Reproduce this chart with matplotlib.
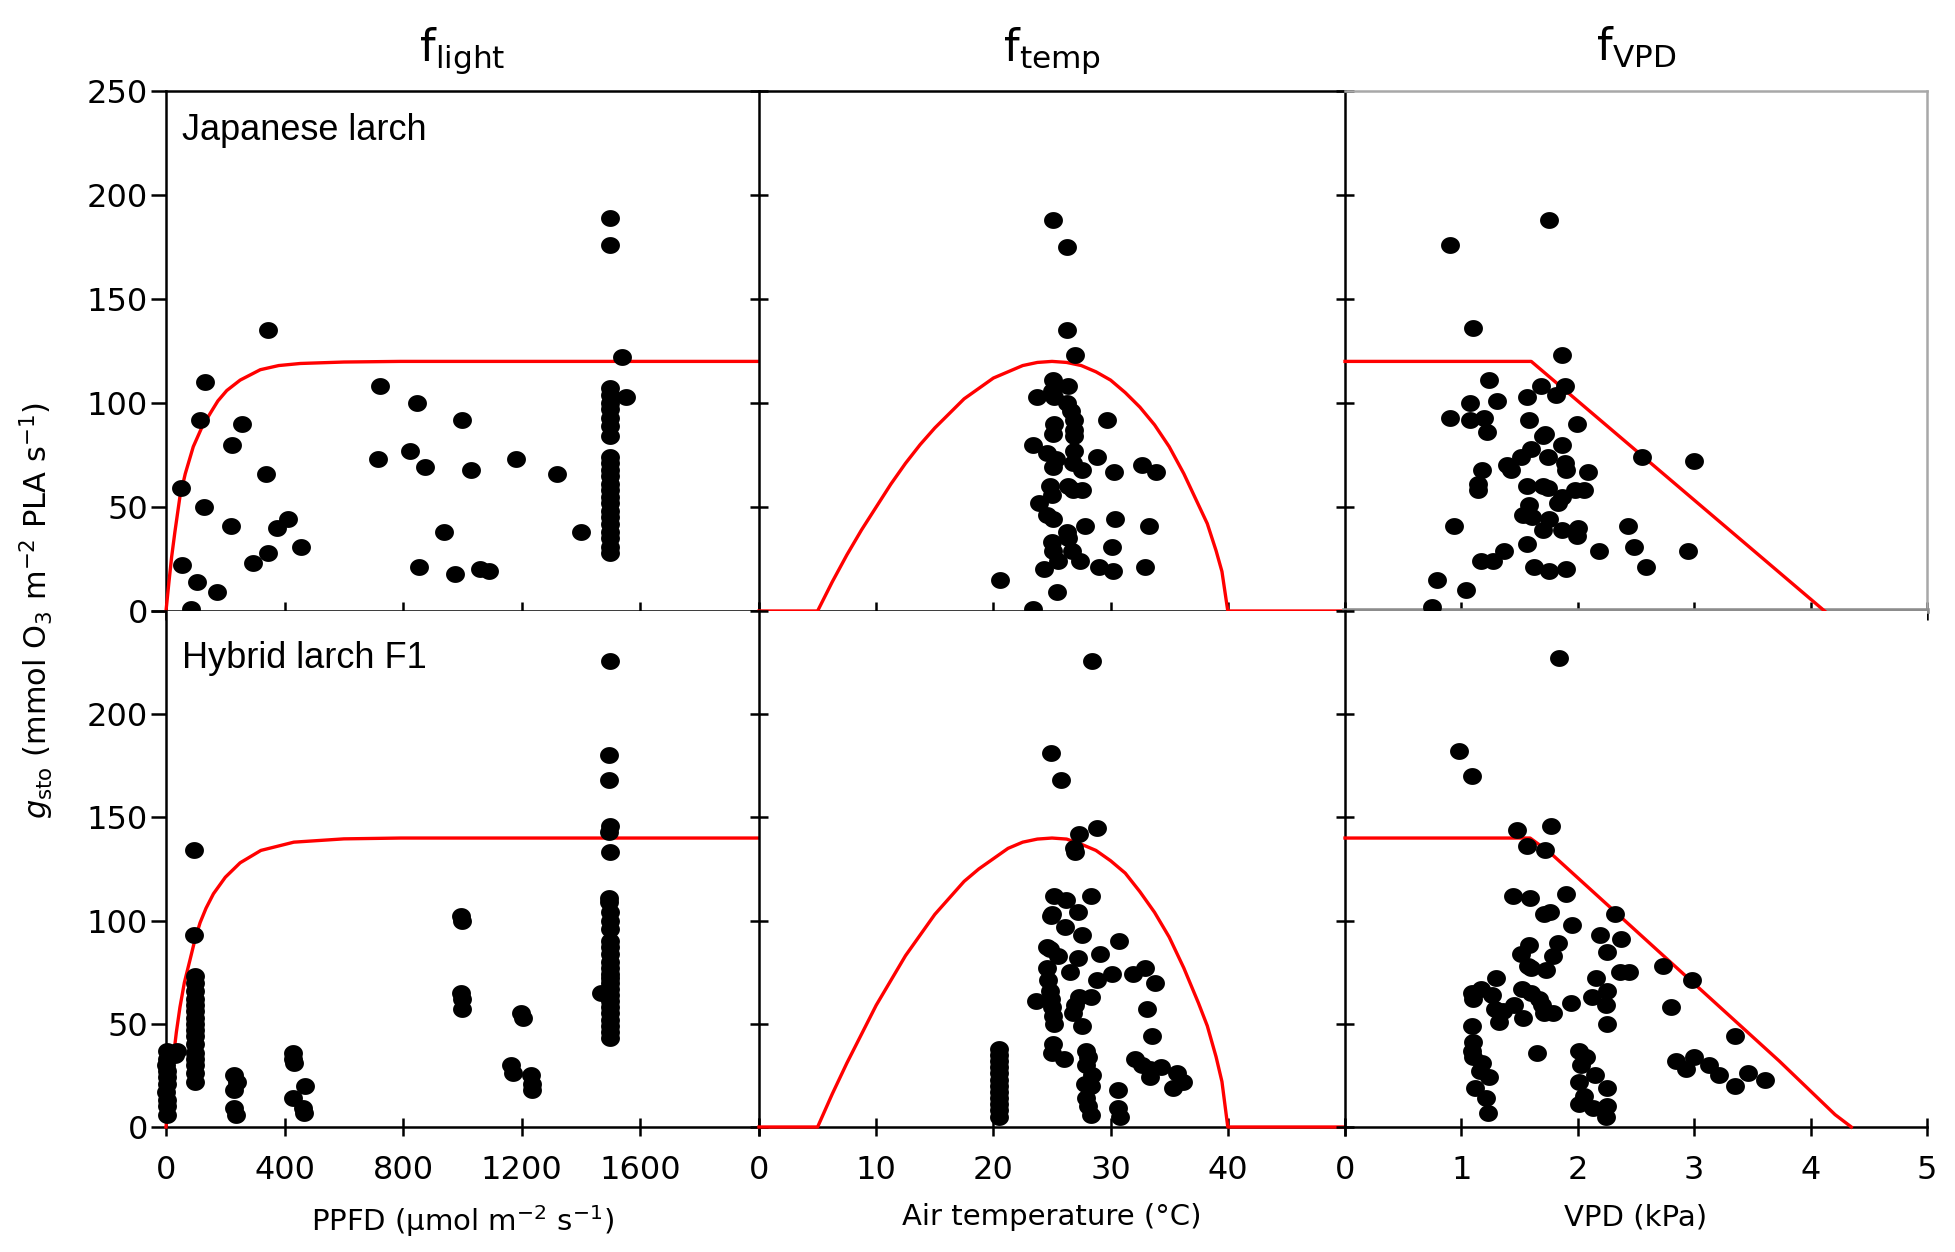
import numpy as np
import matplotlib
matplotlib.use("Agg")
import matplotlib.pyplot as plt
from matplotlib.path import Path

plt.rcParams['font.family'] = ['DejaVu Sans']
plt.rcParams['mathtext.fontset'] = 'dejavusans'

# ---------------------------------------------------------------- data
# Japanese larch, f_light panel
ppfd_jp = [50, 55, 84, 106, 114, 129, 133, 171, 218, 222, 255, 294, 343, 338, 345,
           375, 410, 455, 714, 721, 824, 845, 854, 874, 936, 975, 998, 1029, 1059,
           1091, 1180, 1318, 1398, 1496, 1496, 1538, 1550,
           1496, 1496, 1496, 1496, 1496, 1496, 1496, 1496, 1496, 1496, 1496,
           1496, 1496, 1496, 1496, 1496, 1496, 1496, 1496, 1496, 1496, 1496]
gsto_jp_light = [59, 22, 1, 14, 92, 50, 110, 9, 41, 80, 90, 23, 28, 66, 135,
                 40, 44, 31, 73, 108, 77, 100, 21, 69, 38, 18, 92, 68, 20,
                 19, 73, 66, 38, 189, 176, 122, 103,
                 107, 104, 100, 97, 93, 89, 84, 74, 71, 68, 65,
                 61, 58, 55, 52, 48, 45, 42, 38, 35, 31, 28]

# Japanese larch, f_temp panel
temp_jp = [25.1, 26.3, 26.3, 27.0, 25.1, 25.0, 25.2, 26.4, 23.7, 26.3, 26.6, 26.9,
           29.7, 26.9, 25.2, 25.1, 26.9, 23.4, 26.9, 24.6, 25.3, 28.8, 25.1, 27.6,
           26.8, 32.7, 33.9, 30.3, 24.8, 25.0, 26.4, 26.8, 27.6, 23.9, 24.6, 25.1,
           30.4, 33.3, 27.8, 26.3, 26.4, 25.0, 25.1, 26.7, 30.1, 25.5, 27.4, 29.0,
           24.3, 30.2, 32.9, 20.6, 25.4, 23.4]
gsto_jp_temp = [188, 175, 135, 123, 111, 106, 103, 108, 103, 100, 96, 92,
                92, 87, 90, 85, 84, 80, 77, 76, 73, 74, 69, 68,
                71, 70, 67, 67, 60, 56, 60, 58, 58, 52, 46, 44,
                44, 41, 41, 38, 35, 33, 29, 29, 31, 24, 24, 21,
                20, 19, 21, 15, 9, 1]

# Japanese larch, f_VPD panel
vpd_jp = [1.75, 0.90, 1.10, 1.86, 1.24, 1.68, 1.89, 1.81, 1.56, 1.07, 1.31, 0.90,
          1.07, 1.19, 1.58, 1.22, 1.99, 1.72, 1.70, 1.86, 1.60, 1.51, 1.74, 2.55,
          3.00, 1.39, 1.43, 1.89, 1.90, 1.18, 2.09, 1.14, 1.14, 1.56, 1.70, 1.74,
          1.98, 2.05, 1.86, 1.83, 1.58, 1.53, 1.61, 1.75, 0.94, 2.43, 1.70, 1.86,
          2.00, 1.99, 1.56, 1.37, 2.18, 2.48, 2.95, 1.17, 1.27, 2.59, 1.62, 1.75,
          1.90, 0.79, 1.04, 0.75]
gsto_jp_vpd = [188, 176, 136, 123, 111, 108, 108, 104, 103, 100, 101, 93,
               92, 93, 92, 86, 90, 85, 84, 80, 78, 74, 74, 74,
               72, 70, 68, 71, 68, 68, 67, 61, 58, 60, 60, 59,
               58, 58, 55, 52, 51, 46, 45, 44, 41, 41, 39, 39,
               40, 36, 32, 29, 29, 31, 29, 24, 24, 21, 21, 19,
               20, 15, 10, 2]

# Hybrid larch F1, f_light panel
ppfd_hy = [1499, 1494, 1494, 1499, 1494, 1499, 1494, 1494,
           1499, 1499, 1499, 1499, 1499, 1499, 1499, 1499, 1499, 1499,
           1499, 1499, 1499, 1499, 1499, 1499, 1499, 1499, 1499, 1499, 1466,
           995, 1000, 995, 1000, 1000, 1197, 1205, 1163, 1171, 1230, 1235, 1235,
           96, 96, 99, 99, 99, 99, 99, 99, 99, 99, 99, 99, 99, 99, 99, 99, 99, 99,
           29, 37, 2, 4, 1, 3, 2, 5, 1, 3, 2, 4,
           230, 239, 230, 230, 235, 427, 429, 432, 427, 469, 462, 466]
gsto_hy_light = [226, 180, 168, 146, 143, 133, 111, 109,
                 104, 100, 96, 90, 87, 84, 80, 77, 74, 72,
                 70, 67, 64, 61, 58, 55, 52, 49, 46, 43, 65,
                 102, 100, 65, 57, 62, 55, 53, 30, 26, 25, 21, 18,
                 134, 93, 73, 70, 66, 62, 59, 56, 53, 50, 47, 44, 40, 36, 33, 30, 26, 22,
                 35, 37, 37, 33, 30, 27, 24, 21, 17, 13, 10, 6,
                 25, 22, 18, 9, 6, 36, 33, 31, 14, 20, 9, 7]

# Hybrid larch F1, f_temp panel
temp_hy = [28.4, 24.9, 25.8, 28.8, 27.3, 26.9, 27.0, 25.2, 26.2, 28.3, 25.0, 24.9,
           27.2, 26.1, 27.6, 30.7, 24.6, 24.8, 25.5, 27.2, 29.1, 24.6, 32.9, 26.5,
           30.1, 31.9, 28.8, 33.8, 24.7, 24.8, 24.9, 25.0, 25.1, 25.2, 23.6, 27.3,
           27.0, 26.8, 28.3, 33.1, 27.6, 33.5, 25.1, 25.0, 26.0,
           20.5, 20.5, 20.5, 20.5, 20.5, 20.5, 20.5, 20.5, 20.5, 20.5, 20.5, 20.5,
           27.9, 28.1, 27.9, 28.4, 27.8, 28.3, 27.9, 28.1, 28.3,
           30.6, 30.6, 30.8, 32.1, 32.7, 33.4, 34.3, 33.4, 35.7, 36.2, 35.3]
gsto_hy_temp = [226, 181, 168, 145, 142, 135, 133, 112, 110, 112, 103, 102,
                104, 97, 93, 90, 87, 86, 83, 82, 84, 77, 77, 75,
                74, 74, 71, 70, 71, 66, 62, 58, 54, 50, 61, 63,
                59, 55, 63, 57, 49, 44, 40, 36, 33,
                38, 35, 32, 29, 26, 23, 20, 17, 14, 11, 8, 5,
                37, 34, 30, 25, 21, 20, 14, 10, 6,
                18, 9, 5, 33, 30, 24, 29, 28, 26, 22, 19]

# Hybrid larch F1, f_VPD panel
vpd_hy = [1.84, 0.98, 1.09, 1.77, 1.48, 1.56, 1.72, 1.44, 1.59, 1.90, 1.71, 1.76,
          2.32, 1.95, 2.19, 2.37, 2.25, 1.83, 1.51, 1.58, 1.79, 1.57, 1.60, 1.73,
          2.73, 2.36, 2.44, 2.98, 1.30, 2.16, 1.09, 1.17, 1.10, 1.26, 1.52, 1.60,
          1.67, 1.69, 2.25, 2.12, 1.94, 2.80, 1.29, 1.36, 1.45, 1.53, 1.32, 1.71,
          1.79, 2.24, 2.25, 1.09, 3.35, 1.65, 1.10, 1.09, 1.10, 1.18, 1.16, 1.24,
          1.12, 1.21, 1.23, 2.01, 2.07, 2.03, 2.01, 2.05, 2.01, 2.15, 2.13, 2.25,
          2.25, 2.24, 2.84, 2.93, 3.00, 3.13, 3.21, 3.35, 3.46, 3.61]
gsto_hy_vpd = [227, 182, 170, 146, 144, 136, 134, 112, 111, 113, 103, 104,
               103, 98, 93, 91, 85, 89, 84, 88, 83, 78, 77, 76,
               78, 75, 75, 71, 72, 72, 65, 67, 62, 64, 67, 65,
               62, 59, 66, 63, 60, 58, 57, 56, 59, 53, 51, 55,
               55, 59, 50, 49, 44, 36, 41, 37, 34, 31, 27, 24,
               19, 14, 7, 37, 34, 30, 22, 15, 11, 25, 9, 19,
               10, 5, 32, 28, 34, 30, 25, 20, 26, 23]

# boundary-line functions (red)
light_x_jp = [0, 10, 19, 30, 47, 65, 92, 120, 149, 175, 205, 250, 318, 380, 453, 600, 792, 2000]
light_y_jp = [0, 14, 26, 38, 55, 66, 79, 88, 95, 101, 106, 111, 116, 118, 119, 119.7, 120, 120]
light_x_hy = [0, 12, 25, 35, 47, 62, 81, 98, 115, 135, 160, 200, 250, 320, 431, 600, 792, 2000]
light_y_hy = [0, 17, 34, 46, 58, 70, 81, 91, 99, 106, 113, 121, 128, 134, 138, 139.6, 140, 140]

temp_x = [0, 5, 6.25, 7.5, 8.75, 10, 11.25, 12.5, 13.75, 15, 16.25, 17.5, 18.75, 20,
          21.25, 22.5, 23.75, 25, 26.25, 27.5, 28.75, 30, 31.25, 32.5, 33.75, 35,
          36.25, 37.5, 38.25, 39, 39.5, 40, 50]
temp_y_jp = [0, 0, 14, 27, 39, 50, 61, 71, 80, 88, 95, 102, 107, 112,
             115, 118, 119.5, 120, 119.5, 118, 115, 111, 105, 98, 89.5, 79,
             66, 51, 42, 29, 19, 0, 0]
temp_y_hy = [0, 0, 16, 31, 45, 59, 71, 83, 93, 103, 111, 119, 125, 130,
             135, 138, 139.5, 140, 139.5, 137, 134, 129, 123, 114, 104, 92,
             77, 60, 49, 34, 22, 0, 0]

vpd_x_jp = [0, 1.6, 4.12]
vpd_y_jp = [120, 120, 0]
vpd_x_hy = [0, 1.59, 1.76, 3.73, 4.21, 4.35]
vpd_y_hy = [140, 140, 133, 32, 6, 0]

# ---------------------------------------------------------------- figure
W, H = 1955, 1252
fig = plt.figure(figsize=(W / 100, H / 100), dpi=100)

col_left = [166, 759, 1345]
col_right = [759, 1345, 1927]
row_top = [91, 611]
row_bot = [611, 1127]

# slightly wide dot, like the reference
t = np.linspace(0, 2 * np.pi, 60)
dot = Path(np.column_stack([1.12 * np.cos(t), np.sin(t)]))

panels = [
    [(ppfd_jp, gsto_jp_light, light_x_jp, light_y_jp),
     (temp_jp, gsto_jp_temp, temp_x, temp_y_jp),
     (vpd_jp, gsto_jp_vpd, vpd_x_jp, vpd_y_jp)],
    [(ppfd_hy, gsto_hy_light, light_x_hy, light_y_hy),
     (temp_hy, gsto_hy_temp, temp_x, temp_y_hy),
     (vpd_hy, gsto_hy_vpd, vpd_x_hy, vpd_y_hy)],
]
xlims = [(0, 2000), (0, 50), (0, 5)]
xticks = [[0, 400, 800, 1200, 1600, 2000], [0, 10, 20, 30, 40, 50], [0, 1, 2, 3, 4, 5]]
xticklabels = [['0', '400', '800', '1200', '1600', ''],
               ['0', '10', '20', '30', '40', ''],
               ['0', '1', '2', '3', '4', '5']]
xlabels = ['PPFD (µmol m$^{-2}$ s$^{-1}$)', 'Air temperature (°C)', 'VPD (kPa)']
titles = [r'f$_{\mathregular{light}}$', r'f$_{\mathregular{temp}}$', r'f$_{\mathregular{VPD}}$']
species = ['Japanese larch', 'Hybrid larch F1']
grey = '#a8a8a8'

for r in range(2):
    for c in range(3):
        x0 = col_left[c] / W
        w = (col_right[c] - col_left[c]) / W
        y0 = 1 - row_bot[r] / H
        h = (row_bot[r] - row_top[r]) / H
        ax = fig.add_axes([x0, y0, w, h])
        xs, ys, lx, ly = panels[r][c]

        ax.plot(lx, ly, color='#ff0000', lw=2.4, zorder=4, clip_on=False)
        ax.scatter(xs, ys, s=185, marker=dot, color='black', linewidths=0,
                   zorder=5, clip_on=False)

        ax.set_xlim(*xlims[c])
        ax.set_ylim(0, 250)
        ax.set_xticks(xticks[c])
        ax.set_yticks([0, 50, 100, 150, 200, 250])

        for s in ax.spines.values():
            s.set_linewidth(1.8)
            s.set_color('black')
        ax.spines['right'].set_visible(False)
        if r == 1:
            ax.spines['top'].set_visible(False)
        if c == 2 and r == 0:
            ax.spines['right'].set_visible(True)
            ax.spines['right'].set_color(grey)
            ax.spines['top'].set_color(grey)
            ax.spines['bottom'].set_color('#8c8c8c')
            ax.spines['bottom'].set_linewidth(4)

        ax.tick_params(axis='x', direction='inout', length=13, width=1.8,
                       labelsize=23, pad=14)
        if c == 0:
            ax.tick_params(axis='y', direction='out', length=11, width=1.8,
                           labelsize=23, pad=2)
            if r == 0:
                ax.set_yticklabels(['0', '50', '100', '150', '200', '250'])
            else:
                ax.set_yticklabels(['0', '50', '100', '150', '200', ''])
        else:
            ax.tick_params(axis='y', direction='inout', length=13, width=1.8,
                           labelleft=False)

        if r == 0:
            ax.tick_params(axis='x', labelbottom=False)
            ax.set_title(titles[c], fontsize=32, pad=22)
        else:
            ax.set_xticklabels(xticklabels[c])
            ax.set_xlabel(xlabels[c], fontsize=21, labelpad=12)

        if c == 0:
            ax.text(0.027, 0.957 if r == 0 else 0.942, species[r],
                    transform=ax.transAxes, fontsize=26, ha='left', va='top',
                    family=['Liberation Sans', 'DejaVu Sans'])

fig.text(37 / W, 1 - 611 / H,
         r'$\mathit{g}_{\mathregular{sto}}$ (mmol O$_3$ m$^{-2}$ PLA s$^{-1}$)',
         rotation=90, ha='center', va='center', fontsize=22)

fig.savefig('out.png', dpi=100)
